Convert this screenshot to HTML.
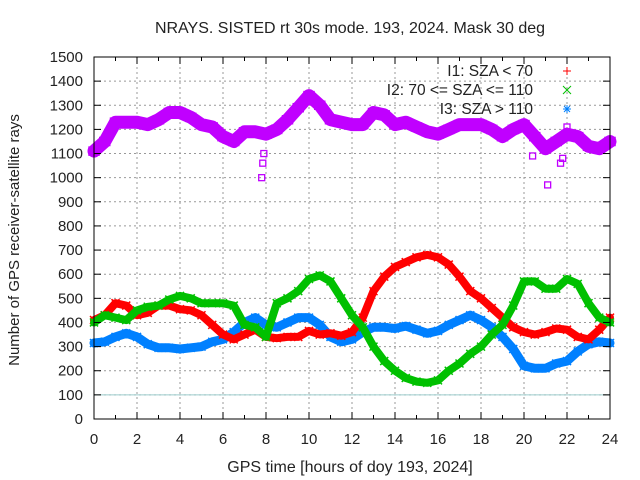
<!DOCTYPE html>
<html><head><meta charset="utf-8"><style>
body{margin:0;background:#fff}
svg{display:block;font-family:"Liberation Sans",sans-serif}
</style></head><body>
<svg id="chart" width="640" height="480" xmlns="http://www.w3.org/2000/svg">
<text x="350" y="33" font-size="16" text-anchor="middle" fill="#222">NRAYS. SISTED rt 30s mode. 193, 2024. Mask 30 deg</text>
<text x="350" y="472" font-size="16" text-anchor="middle" fill="#222">GPS time [hours of doy 193, 2024]</text>
<text x="0" y="0" font-size="15" text-anchor="middle" fill="#222" transform="translate(19,240) rotate(-90)">Number of GPS receiver-satellite rays</text>
<g id="grid"></g><g id="series"></g><g id="axes"></g><g id="legend"></g>
</svg>
<script>
const hours=[0,0.5,1,1.5,2,2.5,3,3.5,4,4.5,5,5.5,6,6.5,7,7.5,8,8.5,9,9.5,10,10.5,11,11.5,12,12.5,13,13.5,14,14.5,15,15.5,16,16.5,17,17.5,18,18.5,19,19.5,20,20.5,21,21.5,22,22.5,23,23.5,24];
const i1Values=[410,430,480,470,430,440,470,470,455,450,430,390,350,330,350,370,340,335,340,340,365,350,355,345,360,420,530,590,630,650,670,680,670,640,590,530,500,460,420,380,360,350,360,375,370,340,330,370,420];
const i2Values=[400,430,420,410,450,465,470,495,510,500,480,480,480,470,390,380,340,480,500,530,580,595,570,500,430,380,300,240,200,170,155,150,160,200,230,270,300,350,390,470,570,570,540,540,580,560,480,420,400];
const i3Values=[315,320,340,355,340,310,295,295,290,295,300,320,330,360,400,420,390,380,400,420,420,390,340,320,330,360,380,380,375,385,370,355,365,390,410,430,410,380,340,290,220,210,210,230,240,280,310,320,315];
const totalValues=[1110,1150,1230,1230,1230,1220,1240,1270,1270,1250,1220,1210,1170,1150,1190,1190,1180,1200,1240,1290,1340,1300,1240,1230,1220,1220,1270,1260,1220,1230,1210,1190,1180,1200,1220,1220,1220,1200,1170,1200,1220,1170,1120,1150,1180,1170,1130,1120,1150];
const totalOutlierHours=[7.8,7.85,7.9,20.4,21.1,21.7,21.8,22.0];
const totalOutlierValues=[1000,1060,1100,1090,970,1060,1080,1210];
const xTicks=[0,2,4,6,8,10,12,14,16,18,20,22,24];
const yTicks=[0,100,200,300,400,500,600,700,800,900,1000,1100,1200,1300,1400,1500];
const legendLabels=["I1: SZA < 70","I2: 70 <= SZA <= 110","I3: SZA > 110"];

const NS="http://www.w3.org/2000/svg";
const L=94,R=610,T=57,B=419;
const xs=h=>L+(R-L)*h/24;
const ys=v=>B-(B-T)*v/1500;
function mk(tag,attrs,parent){const e=document.createElementNS(NS,tag);for(const k in attrs)e.setAttribute(k,attrs[k]);parent.appendChild(e);return e;}
const grid=document.getElementById('grid'),axes=document.getElementById('axes'),series=document.getElementById('series'),legend=document.getElementById('legend');
xTicks.forEach(t=>{if(t>0&&t<24){const g=mk('line',{x1:xs(t),x2:xs(t),y1:T,y2:B,stroke:'#999','stroke-dasharray':'2,3'},grid);

}
const tx=mk('text',{x:xs(t),y:B+25,'font-size':15,'text-anchor':'middle',fill:'#222'},axes);tx.textContent=t;

});
for(let h=0;h<=24;h++){mk('line',{x1:xs(h),x2:xs(h),y1:B,y2:B-(h%2?4:7),stroke:'#000'},axes);mk('line',{x1:xs(h),x2:xs(h),y1:T,y2:T+(h%2?4:7),stroke:'#000'},axes);}
yTicks.forEach(t=>{if(t>0&&t<1500){const g=mk('line',{x1:L,x2:R,y1:ys(t),y2:ys(t),stroke:'#999','stroke-dasharray':'2,3'},grid);

}
mk('line',{x1:L,x2:L+7,y1:ys(t),y2:ys(t),stroke:'#000'},axes);mk('line',{x1:R,x2:R-7,y1:ys(t),y2:ys(t),stroke:'#000'},axes);
const tx=mk('text',{x:L-11,y:ys(t)+5,'font-size':15,'text-anchor':'end',fill:'#222'},axes);tx.textContent=t;

});
const ref=mk('line',{x1:L,x2:R,y1:ys(100),y2:ys(100),stroke:'#9ccccc','stroke-width':1},grid);


const frame=mk('rect',{x:L,y:T,width:R-L,height:B-T,fill:'none',stroke:'#000'},axes);



function band(vals,color,w,name,marker){
 const g=mk('g',{},series);
 
 
 const pts=hours.map((h,i)=>xs(h).toFixed(1)+','+ys(vals[i]).toFixed(1)).join(' ');
 mk('polyline',{points:pts,fill:'none',stroke:color,'stroke-width':w,'stroke-linejoin':'round','stroke-linecap':'round'},g);
 hours.forEach((h,i)=>{const x=xs(h),y=ys(vals[i]);
  if(marker==='sq'){const m=mk('rect',{x:x-5,y:y-4,width:10,height:8,fill:'none',stroke:color,'stroke-width':1.5},g);}
  else{const m=mk('path',{d:`M${x-4},${y-4}L${x+4},${y+4}M${x-4},${y+4}L${x+4},${y-4}`,stroke:color,'stroke-width':1.5},g);}
 });
 return g;
}
band(totalValues,'#c000ff',13,'series-total','sq');
const og=mk('g',{},series);


totalOutlierHours.forEach((h,i)=>{mk('rect',{x:xs(h)-3,y:ys(totalOutlierValues[i])-3,width:6,height:6,fill:'none',stroke:'#c000ff','stroke-width':1.3},og);});
band(i3Values,'#0080ff',9,'series-i3','x');
band(i1Values,'#ff0000',8,'series-i1','x');
band(i2Values,'#00c000',8,'series-i2','x');

const lc=['#ff0000','#00c000','#0080ff'];
legendLabels.forEach((s,i)=>{const y=76+i*19;
 const tx=mk('text',{x:533,y:y,'font-size':15.5,'text-anchor':'end',fill:'#222'},legend);tx.textContent=s;
 
 
 const cx=567,cy=y-5;
 if(i===0)mk('path',{d:`M${cx-4},${cy}L${cx+4},${cy}M${cx},${cy-4}L${cx},${cy+4}`,stroke:lc[i]},legend);
 else if(i===1)mk('path',{d:`M${cx-4},${cy-4}L${cx+4},${cy+4}M${cx-4},${cy+4}L${cx+4},${cy-4}`,stroke:lc[i]},legend);
 else mk('path',{d:`M${cx-4},${cy}L${cx+4},${cy}M${cx},${cy-4}L${cx},${cy+4}M${cx-3},${cy-3}L${cx+3},${cy+3}M${cx-3},${cy+3}L${cx+3},${cy-3}`,stroke:lc[i]},legend);
});
</script>
</body></html>
